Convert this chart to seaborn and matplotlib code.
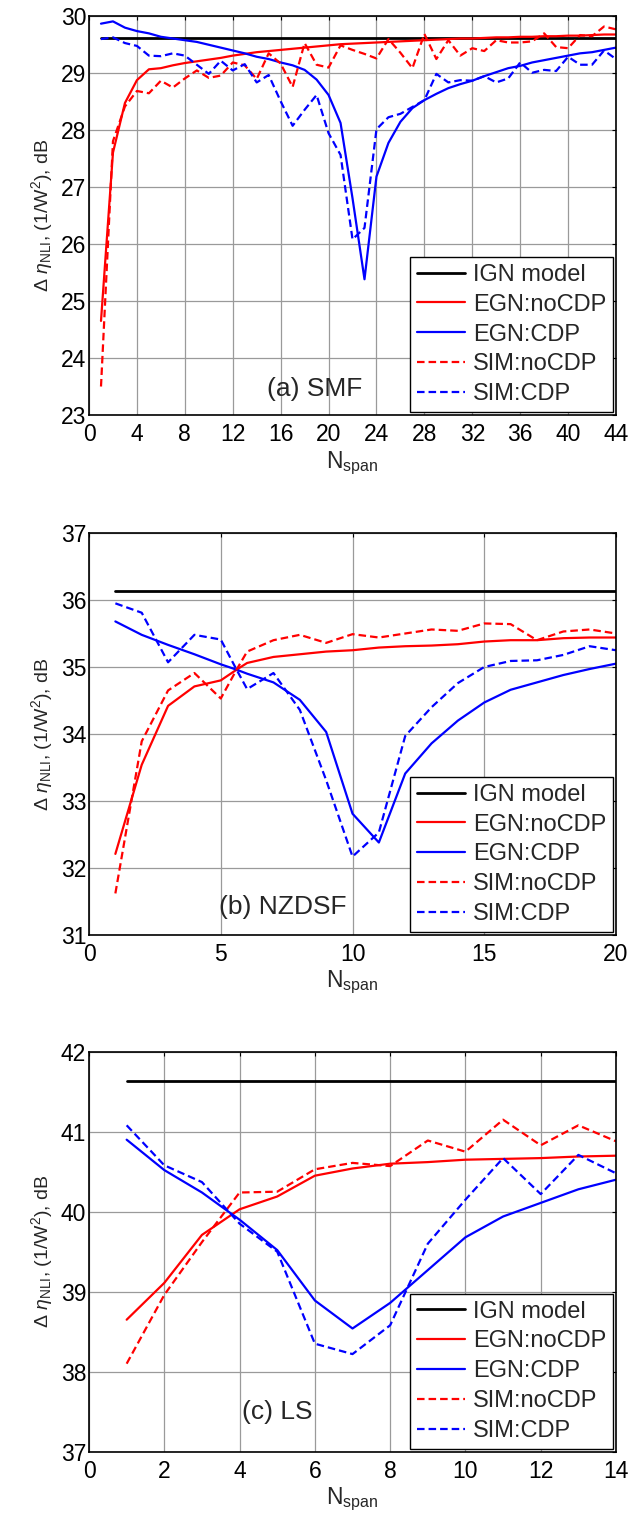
import matplotlib
matplotlib.use("Agg")
import matplotlib.pyplot as plt
import seaborn as sns
import pandas as pd

# ---- data ----
SERIES = ["IGN model", "EGN:noCDP", "EGN:CDP", "SIM:noCDP", "SIM:CDP"]

# (a) SMF
SMF_N = list(range(1, 45))
SMF_IGN = 29.6
SMF_EGN_NOCDP = [24.65, 27.6, 28.47, 28.87, 29.06, 29.08, 29.13, 29.17, 29.2, 29.23, 29.26,
                 29.3, 29.33, 29.36, 29.38, 29.4, 29.42, 29.44, 29.46, 29.48, 29.5, 29.51,
                 29.52, 29.53, 29.54, 29.55, 29.56, 29.57, 29.58, 29.59, 29.6, 29.6, 29.61,
                 29.62, 29.62, 29.63, 29.63, 29.64, 29.64, 29.65, 29.65, 29.66, 29.67, 29.67]
SMF_EGN_CDP = [29.86, 29.9, 29.79, 29.73, 29.69, 29.63, 29.6, 29.57, 29.54, 29.49, 29.44,
               29.39, 29.34, 29.28, 29.24, 29.18, 29.13, 29.05, 28.88, 28.61, 28.12, 26.8,
               25.38, 27.18, 27.77, 28.14, 28.38, 28.52, 28.63, 28.73, 28.8, 28.86, 28.94,
               29.01, 29.08, 29.12, 29.18, 29.22, 29.26, 29.3, 29.34, 29.36, 29.4, 29.44]
SMF_SIM_NOCDP = [23.5, 27.8, 28.41, 28.68, 28.64, 28.86, 28.74, 28.9, 29.04, 28.91, 28.95,
                 29.18, 29.13, 28.89, 29.34, 29.16, 28.75, 29.52, 29.14, 29.09, 29.48, 29.4,
                 29.33, 29.25, 29.59, 29.35, 29.08, 29.68, 29.24, 29.57, 29.3, 29.43, 29.38,
                 29.57, 29.53, 29.53, 29.55, 29.69, 29.45, 29.43, 29.66, 29.64, 29.81, 29.76]
SMF_SIM_CDP = [29.59, 29.62, 29.52, 29.47, 29.3, 29.29, 29.34, 29.3, 29.14, 28.98, 29.21,
               29.04, 29.15, 28.83, 28.96, 28.5, 28.07, 28.35, 28.61, 27.94, 27.56, 26.08,
               26.28, 28.01, 28.22, 28.28, 28.4, 28.52, 28.98, 28.83, 28.87, 28.86, 28.94,
               28.83, 28.9, 29.18, 29.0, 29.05, 29.03, 29.28, 29.14, 29.14, 29.39, 29.24]

# (b) NZDSF
NZ_N = [1, 2, 3, 4, 5, 5.6, 6, 7, 8, 9, 10, 11, 12, 13, 14, 15, 16, 17, 18, 19, 20]
NZ_IGN = 36.14
NZ_EGN_NOCDP = [32.21, 33.54, 34.42, 34.71, 34.8, 34.96, 35.06, 35.15, 35.19, 35.23, 35.25,
                35.29, 35.31, 35.32, 35.34, 35.38, 35.4, 35.4, 35.43, 35.44, 35.44]
NZ_EGN_CDP = [35.68, 35.48, 35.33, 35.19, 35.04, 34.96, 34.9, 34.77, 34.51, 34.03, 32.81,
              32.38, 33.41, 33.86, 34.2, 34.47, 34.66, 34.77, 34.88, 34.97, 35.05]
NZ_SIM_NOCDP = [31.62, 33.89, 34.65, 34.91, 34.53, 34.96, 35.23, 35.4, 35.48, 35.36, 35.49,
                35.44, 35.5, 35.56, 35.54, 35.65, 35.64, 35.4, 35.53, 35.56, 35.5]
NZ_SIM_CDP = [35.95, 35.81, 35.07, 35.48, 35.41, 34.96, 34.67, 34.91, 34.36, 33.31, 32.17,
              32.53, 33.97, 34.4, 34.76, 35.0, 35.09, 35.1, 35.18, 35.31, 35.25]

# (c) LS
LS_N = list(range(1, 15))
LS_IGN = 41.63
LS_EGN_NOCDP = [38.65, 39.11, 39.71, 40.03, 40.19, 40.45, 40.54, 40.6, 40.62, 40.65, 40.66,
                40.67, 40.69, 40.7]
LS_EGN_CDP = [40.9, 40.52, 40.24, 39.9, 39.52, 38.89, 38.54, 38.86, 39.27, 39.68, 39.94,
              40.11, 40.28, 40.4]
LS_SIM_NOCDP = [38.1, 38.96, 39.62, 40.24, 40.25, 40.53, 40.61, 40.57, 40.89, 40.75, 41.15,
                40.83, 41.08, 40.88]
LS_SIM_CDP = [41.08, 40.58, 40.37, 39.85, 39.5, 38.35, 38.22, 38.58, 39.6, 40.15, 40.67,
              40.22, 40.71, 40.48]

STYLE = {
    "IGN model": dict(color="black", linestyle="-", linewidth=2.0),
    "EGN:noCDP": dict(color="#ff0000", linestyle="-", linewidth=1.6),
    "EGN:CDP": dict(color="#0000ff", linestyle="-", linewidth=1.6),
    "SIM:noCDP": dict(color="#ff0000", linestyle=(0, (3.4, 1.8)), linewidth=1.6),
    "SIM:CDP": dict(color="#0000ff", linestyle=(0, (3.4, 1.8)), linewidth=1.6),
}

PANELS = [
    dict(n=SMF_N, ign=SMF_IGN, egn_no=SMF_EGN_NOCDP, egn=SMF_EGN_CDP, sim_no=SMF_SIM_NOCDP,
         sim=SMF_SIM_CDP, xlim=(0, 44), xticks=list(range(0, 45, 4)), ylim=(23, 30),
         yticks=list(range(23, 31)), tag="(a) SMF", tag_xy=(14.9, 23.45),
         rect=[0.1413, 0.7273, 0.8365, 0.2624]),
    dict(n=NZ_N, ign=NZ_IGN, egn_no=NZ_EGN_NOCDP, egn=NZ_EGN_CDP, sim_no=NZ_SIM_NOCDP,
         sim=NZ_SIM_CDP, xlim=(0, 20), xticks=[0, 5, 10, 15, 20], ylim=(31, 37),
         yticks=list(range(31, 38)), tag="(b) NZDSF", tag_xy=(4.95, 31.42),
         rect=[0.1413, 0.3857, 0.8365, 0.2641]),
    dict(n=LS_N, ign=LS_IGN, egn_no=LS_EGN_NOCDP, egn=LS_EGN_CDP, sim_no=LS_SIM_NOCDP,
         sim=LS_SIM_CDP, xlim=(0, 14), xticks=list(range(0, 15, 2)), ylim=(37, 42),
         yticks=list(range(37, 43)), tag="(c) LS", tag_xy=(4.06, 37.5),
         rect=[0.1413, 0.0462, 0.8365, 0.2628]),
]

sns.set_style("white")
plt.rcParams["font.family"] = ["Liberation Sans", "DejaVu Sans"]
plt.rcParams["mathtext.fontset"] = "custom"
plt.rcParams["mathtext.rm"] = "Liberation Sans"
plt.rcParams["mathtext.it"] = "Liberation Sans:italic"

fig = plt.figure(figsize=(6.3, 15.22), dpi=100)

for p in PANELS:
    ax = fig.add_axes(p["rect"])
    n = p["n"]
    curves = {
        "IGN model": [p["ign"]] * len(n),
        "EGN:noCDP": p["egn_no"],
        "EGN:CDP": p["egn"],
        "SIM:noCDP": p["sim_no"],
        "SIM:CDP": p["sim"],
    }
    for name in SERIES:
        df = pd.DataFrame({"N": n, "eta": curves[name]})
        sns.lineplot(data=df, x="N", y="eta", ax=ax, label=name, sort=False, **STYLE[name])

    ax.set_xlim(*p["xlim"])
    ax.set_ylim(*p["ylim"])
    ax.set_xticks(p["xticks"])
    ax.set_yticks(p["yticks"])
    ax.grid(True, color="#9a9a9a", linewidth=0.9)
    ax.set_axisbelow(True)
    ax.tick_params(direction="in", top=True, right=True, length=3, labelsize=16.5,
                   width=0.8, colors="black")
    ax.tick_params(axis="y", pad=2)
    ax.tick_params(axis="x", pad=6)
    for s in ax.spines.values():
        s.set_color("black")
        s.set_linewidth(1.2)

    ax.set_xlabel(r"N$_{\mathrm{span}}$", fontsize=16.5, labelpad=2)
    ax.set_ylabel(r"$\Delta\ \eta_{\mathrm{NLI}}$, (1/W$^{2}$), dB", fontsize=14, labelpad=4)
    ax.text(p["tag_xy"][0], p["tag_xy"][1], p["tag"], fontsize=19, ha="left", va="center")

    leg = ax.legend(loc="lower right", fontsize=17, frameon=True, fancybox=False,
                    framealpha=1, edgecolor="black", handlelength=2.0, handletextpad=0.35,
                    borderpad=0.3, labelspacing=0.33, borderaxespad=0.12)
    leg.get_frame().set_linewidth(1.0)

fig.savefig("out.png", dpi=100)
plt.close(fig)
